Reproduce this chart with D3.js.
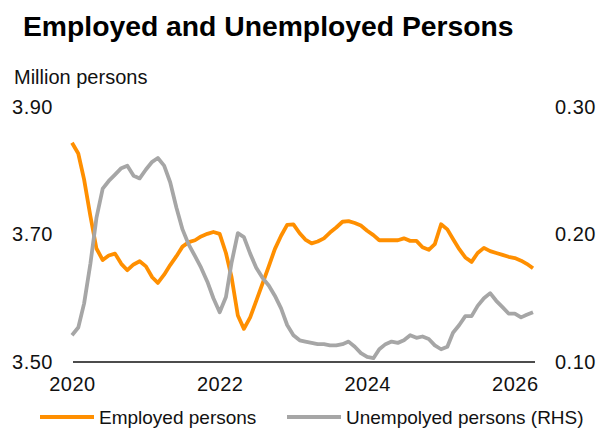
<!DOCTYPE html>
<html>
<head>
<meta charset="utf-8">
<script src="https://cdn.jsdelivr.net/npm/d3@7"></script>
<style>
	body { margin: 0; background: #fff; }
	svg { display: block; font-family: "Liberation Sans", Arial, sans-serif; }
	.tick text { fill: #111; }
</style>
</head>
<body>
<div id="main-view"></div>
<script>
// monthly data, Jan 2020 .. Apr 2026
var firstMonth = "2020-01",
	lastMonth = "2026-04";

var yearTicks = ["2020", "2022", "2024", "2026"];
var leftTicks = [3.5, 3.7, 3.9];
var rightTicks = [0.1, 0.2, 0.3];

// million persons
var employed = [
	3.844, 3.827, 3.786, 3.729, 3.678, 3.660, 3.667, 3.670, 3.654, 3.644, 3.653, 3.658,
	3.650, 3.633, 3.624, 3.637, 3.652, 3.666, 3.681, 3.688, 3.691, 3.697, 3.701, 3.704,
	3.701, 3.671, 3.633, 3.573, 3.552, 3.570, 3.596, 3.623, 3.650, 3.677, 3.698, 3.715,
	3.716, 3.702, 3.692, 3.686, 3.689, 3.694, 3.703, 3.711, 3.720, 3.721, 3.718, 3.714,
	3.706, 3.699, 3.691, 3.691, 3.691, 3.691, 3.694, 3.690, 3.690, 3.680, 3.676, 3.685,
	3.716, 3.708, 3.693, 3.677, 3.664, 3.657, 3.671, 3.679, 3.674, 3.671, 3.668, 3.665,
	3.663, 3.659, 3.654, 3.647
];

// million persons, right axis
var unemployed = [
	0.121, 0.127, 0.146, 0.177, 0.213, 0.236, 0.242, 0.247, 0.252, 0.254, 0.246, 0.244,
	0.251, 0.257, 0.260, 0.254, 0.241, 0.221, 0.204, 0.192, 0.183, 0.174, 0.163, 0.150,
	0.139, 0.151, 0.178, 0.201, 0.198, 0.185, 0.174, 0.166, 0.160, 0.152, 0.142, 0.129,
	0.121, 0.117, 0.116, 0.115, 0.114, 0.114, 0.113, 0.113, 0.114, 0.116, 0.112, 0.107,
	0.104, 0.103, 0.110, 0.114, 0.116, 0.115, 0.117, 0.121, 0.119, 0.120, 0.118, 0.113,
	0.110, 0.112, 0.123, 0.129, 0.136, 0.136, 0.144, 0.150, 0.154, 0.148, 0.143, 0.138,
	0.138, 0.135, 0.137, 0.139
];

var seriesNames = ["Employed persons", "Unempolyed persons (RHS)"];
var seriesColors = ["#ff8f00", "#a6a6a6"];

var width = 601,
	height = 430;

var parseMonth = d3.timeParse("%Y-%m");
var months = d3.timeMonth.range(parseMonth(firstMonth), d3.timeMonth.offset(parseMonth(lastMonth), 1));

var svg = d3.select("#main-view").append("svg")
	.attr("width", width)
	.attr("height", height);

var x = d3.scaleTime()
	.domain([months[0], months[months.length - 1]])
	.range([72, 533]);

var yL = d3.scaleLinear().domain([3.5, 3.9]).range([362, 107]);
var yR = d3.scaleLinear().domain([0.1, 0.3]).range([362, 107]);

svg.append("text")
	.attr("x", 23)
	.attr("y", 36)
	.attr("font-size", 28.3)
	.attr("font-weight", "bold")
	.attr("fill", "#000")
	.text("Employed and Unemployed Persons");

svg.append("text")
	.attr("x", 14)
	.attr("y", 84)
	.attr("font-size", 20)
	.attr("fill", "#111")
	.text("Million persons");

var fmt = d3.format(".2f");

var leftAxis = svg.append("g")
	.attr("transform", "translate(60,0)")
	.call(d3.axisLeft(yL).tickValues(leftTicks).tickFormat(fmt).tickSize(0).tickPadding(7));

var rightAxis = svg.append("g")
	.attr("transform", "translate(548,0)")
	.call(d3.axisRight(yR).tickValues(rightTicks).tickFormat(fmt).tickSize(0).tickPadding(7));

var bottomAxis = svg.append("g")
	.attr("transform", "translate(0,362)")
	.call(d3.axisBottom(x)
		.tickValues(yearTicks.map(function(d) { return d3.timeParse("%Y")(d); }))
		.tickFormat(d3.timeFormat("%Y"))
		.tickSize(0).tickPadding(15));

[leftAxis, rightAxis, bottomAxis].forEach(function(a) {
	a.select(".domain").remove();
	a.selectAll("text")
		.attr("font-size", 20)
		.attr("font-family", "Liberation Sans, Arial, sans-serif")
		.style("letter-spacing", "0.5px");
});

// baseline
svg.append("line")
	.attr("x1", x.range()[0] + 1)
	.attr("x2", x.range()[1] + 2)
	.attr("y1", yL(3.5))
	.attr("y2", yL(3.5))
	.attr("stroke", "#111")
	.attr("stroke-width", 1.3);

var lineL = d3.line()
	.x(function(d, i) { return x(months[i]); })
	.y(function(d) { return yL(d); });

var lineR = d3.line()
	.x(function(d, i) { return x(months[i]); })
	.y(function(d) { return yR(d); });

svg.append("path")
	.datum(employed)
	.attr("d", lineL)
	.attr("fill", "none")
	.attr("stroke", seriesColors[0])
	.attr("stroke-width", 3.8)
	.attr("stroke-linejoin", "round");

svg.append("path")
	.datum(unemployed)
	.attr("d", lineR)
	.attr("fill", "none")
	.attr("stroke", seriesColors[1])
	.attr("stroke-width", 3.8)
	.attr("stroke-linejoin", "round");

// legend
var legendX = [40, 287];
var legend = svg.selectAll(".legend")
	.data(seriesNames)
	.enter().append("g")
	.attr("class", "legend")
	.attr("transform", function(d, i) { return "translate(" + legendX[i] + ",417)"; });

legend.append("line")
	.attr("x1", 0)
	.attr("x2", 54)
	.attr("stroke", function(d, i) { return seriesColors[i]; })
	.attr("stroke-width", 4);

legend.append("text")
	.attr("x", 59)
	.attr("y", 7)
	.attr("font-size", 19)
	.attr("fill", "#111")
	.text(function(d) { return d; });
</script>
</body>
</html>
